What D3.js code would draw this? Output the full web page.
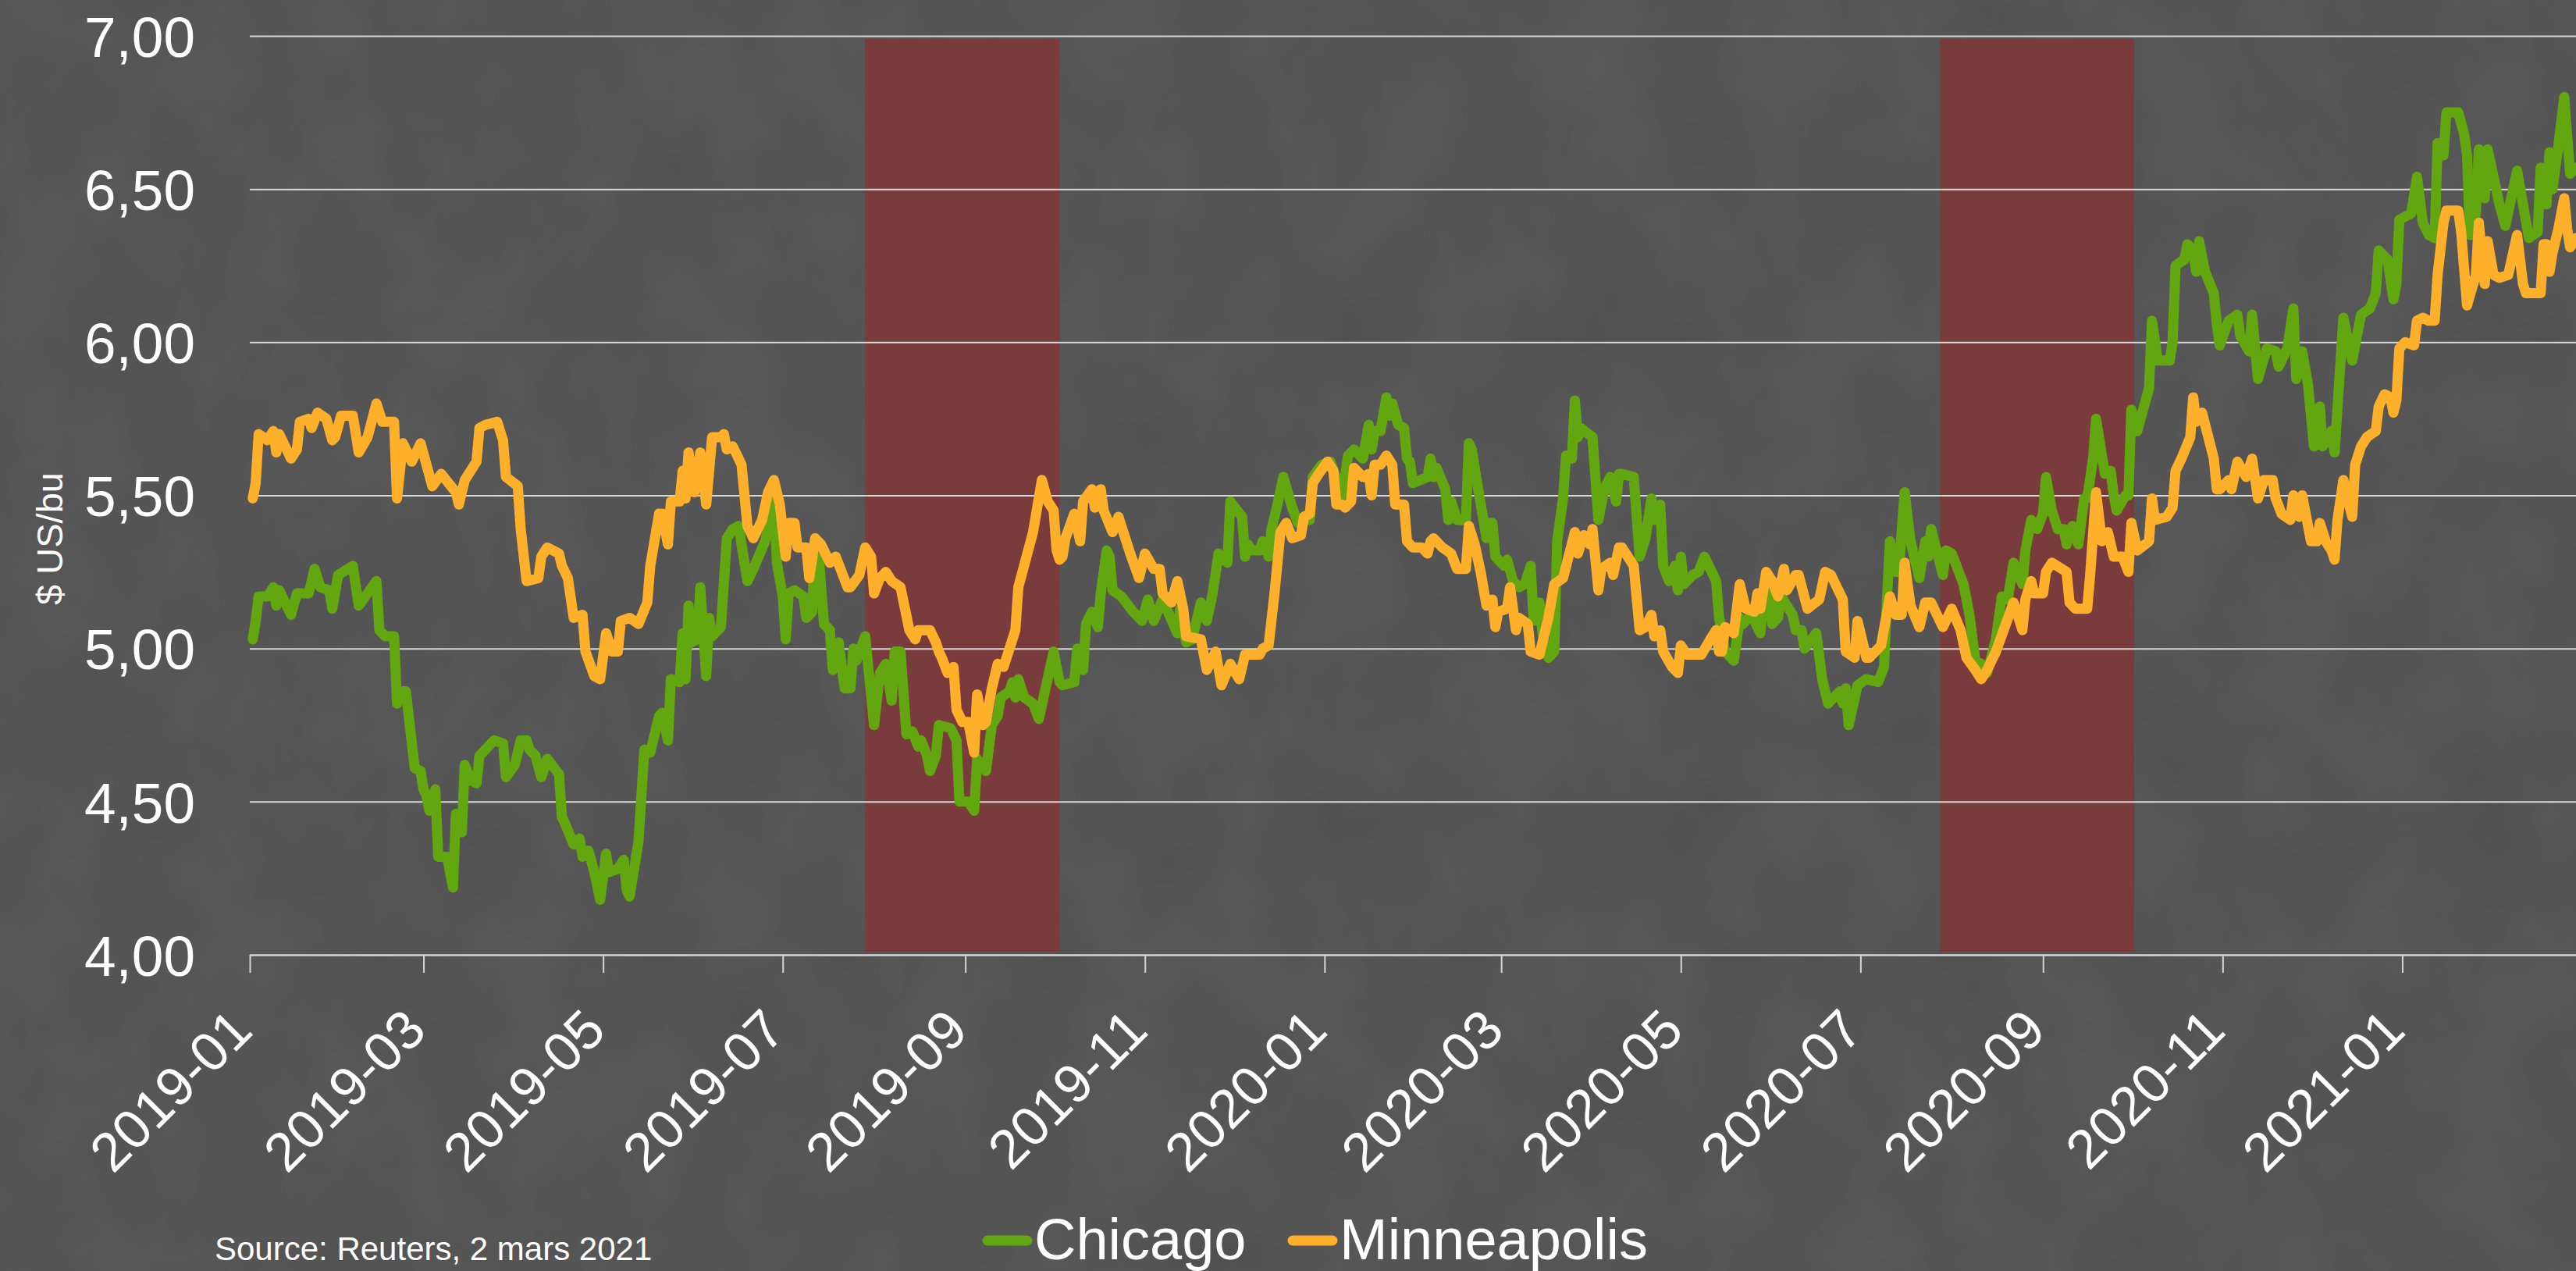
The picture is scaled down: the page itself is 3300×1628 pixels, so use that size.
<!DOCTYPE html>
<html>
<head>
<meta charset="utf-8">
<script src="https://cdn.jsdelivr.net/npm/d3@7"></script>
<style>
  html, body { margin: 0; padding: 0; background: #4f4f4f; }
  svg { display: block; }
  text { font-family: "Liberation Sans", Arial, Helvetica, sans-serif; fill: #ffffff; }
</style>
</head>
<body>
<div id="chart"></div>
<script>
// wheat prices, $ US per bushel
var chicago = [
  ["2019-01-02",5.03],["2019-01-03",5.09],["2019-01-04",5.17],["2019-01-07",5.17],["2019-01-09",5.20],
  ["2019-01-10",5.14],["2019-01-11",5.19],["2019-01-15",5.11],["2019-01-17",5.18],["2019-01-21",5.18],
  ["2019-01-23",5.26],["2019-01-25",5.20],["2019-01-28",5.19],["2019-01-29",5.13],["2019-01-31",5.24],
  ["2019-02-05",5.27],["2019-02-07",5.14],["2019-02-10",5.18],["2019-02-13",5.22],["2019-02-14",5.06],
  ["2019-02-16",5.04],["2019-02-19",5.04],["2019-02-20",4.82],["2019-02-21",4.86],["2019-02-23",4.86],
  ["2019-02-26",4.61],["2019-02-28",4.60],["2019-03-01",4.54],["2019-03-02",4.52],["2019-03-03",4.47],
  ["2019-03-05",4.54],["2019-03-06",4.32],["2019-03-09",4.32],["2019-03-11",4.22],["2019-03-12",4.46],
  ["2019-03-14",4.40],["2019-03-15",4.62],["2019-03-17",4.57],["2019-03-19",4.56],["2019-03-20",4.65],
  ["2019-03-22",4.67],["2019-03-25",4.70],["2019-03-28",4.69],["2019-03-29",4.58],["2019-04-01",4.62],
  ["2019-04-03",4.70],["2019-04-05",4.70],["2019-04-06",4.67],["2019-04-08",4.65],["2019-04-10",4.58],
  ["2019-04-12",4.64],["2019-04-16",4.59],["2019-04-17",4.45],["2019-04-18",4.43],["2019-04-21",4.36],
  ["2019-04-23",4.38],["2019-04-24",4.32],["2019-04-26",4.34],["2019-04-28",4.27],["2019-04-30",4.18],
  ["2019-05-02",4.33],["2019-05-03",4.27],["2019-05-06",4.28],["2019-05-08",4.31],["2019-05-09",4.21],
  ["2019-05-10",4.19],["2019-05-13",4.37],["2019-05-15",4.67],["2019-05-17",4.66],["2019-05-20",4.78],
  ["2019-05-21",4.79],["2019-05-23",4.70],["2019-05-24",4.90],["2019-05-27",4.89],["2019-05-28",5.05],
  ["2019-05-29",4.90],["2019-05-30",5.14],["2019-05-31",5.02],["2019-06-02",5.03],["2019-06-03",5.20],
  ["2019-06-05",4.91],["2019-06-06",5.10],["2019-06-07",5.04],["2019-06-10",5.07],["2019-06-12",5.36],
  ["2019-06-14",5.39],["2019-06-16",5.40],["2019-06-19",5.22],["2019-06-21",5.26],["2019-06-25",5.35],
  ["2019-06-28",5.48],["2019-06-29",5.28],["2019-07-01",5.17],["2019-07-02",5.03],["2019-07-03",5.18],
  ["2019-07-05",5.19],["2019-07-08",5.17],["2019-07-09",5.10],["2019-07-11",5.12],["2019-07-12",5.36],
  ["2019-07-13",5.33],["2019-07-15",5.08],["2019-07-17",5.06],["2019-07-18",4.93],["2019-07-20",5.02],
  ["2019-07-22",4.87],["2019-07-24",4.87],["2019-07-25",5.00],["2019-07-26",4.96],["2019-07-29",5.04],
  ["2019-08-01",4.75],["2019-08-03",4.92],["2019-08-05",4.95],["2019-08-07",4.83],["2019-08-08",4.99],
  ["2019-08-10",4.99],["2019-08-12",4.72],["2019-08-14",4.73],["2019-08-16",4.68],["2019-08-17",4.70],
  ["2019-08-19",4.65],["2019-08-20",4.60],["2019-08-22",4.65],["2019-08-23",4.75],["2019-08-27",4.74],
  ["2019-08-29",4.70],["2019-08-30",4.50],["2019-09-02",4.50],["2019-09-04",4.47],["2019-09-05",4.64],
  ["2019-09-08",4.60],["2019-09-10",4.75],["2019-09-12",4.78],["2019-09-13",4.84],["2019-09-16",4.86],
  ["2019-09-17",4.89],["2019-09-18",4.84],["2019-09-19",4.90],["2019-09-20",4.87],["2019-09-21",4.84],
  ["2019-09-24",4.82],["2019-09-26",4.77],["2019-09-28",4.86],["2019-10-01",4.99],["2019-10-03",4.89],
  ["2019-10-04",4.88],["2019-10-08",4.89],["2019-10-09",5.00],["2019-10-11",4.93],["2019-10-12",5.08],
  ["2019-10-14",5.12],["2019-10-16",5.07],["2019-10-17",5.18],["2019-10-19",5.32],["2019-10-20",5.30],
  ["2019-10-21",5.19],["2019-10-24",5.17],["2019-10-28",5.12],["2019-10-31",5.09],["2019-11-02",5.16],
  ["2019-11-04",5.09],["2019-11-07",5.16],["2019-11-12",5.05],["2019-11-13",5.13],["2019-11-15",5.02],
  ["2019-11-17",5.03],["2019-11-20",5.15],["2019-11-22",5.09],["2019-11-24",5.18],["2019-11-26",5.31],
  ["2019-11-29",5.28],["2019-11-30",5.48],["2019-12-04",5.43],["2019-12-05",5.30],["2019-12-06",5.34],
  ["2019-12-07",5.32],["2019-12-10",5.32],["2019-12-11",5.35],["2019-12-13",5.30],["2019-12-14",5.39],
  ["2019-12-16",5.47],["2019-12-18",5.56],["2019-12-21",5.46],["2019-12-23",5.41],["2019-12-25",5.43],
  ["2019-12-27",5.42],["2019-12-28",5.56],["2019-12-31",5.60],["2020-01-03",5.61],["2020-01-07",5.50],
  ["2020-01-09",5.63],["2020-01-11",5.65],["2020-01-14",5.62],["2020-01-16",5.73],["2020-01-17",5.65],
  ["2020-01-18",5.71],["2020-01-20",5.71],["2020-01-22",5.82],["2020-01-23",5.76],["2020-01-24",5.80],
  ["2020-01-26",5.73],["2020-01-28",5.72],["2020-01-29",5.62],["2020-01-30",5.61],["2020-01-31",5.54],
  ["2020-02-05",5.56],["2020-02-06",5.62],["2020-02-07",5.56],["2020-02-08",5.59],["2020-02-11",5.52],
  ["2020-02-12",5.42],["2020-02-13",5.48],["2020-02-15",5.42],["2020-02-18",5.42],["2020-02-19",5.67],
  ["2020-02-20",5.65],["2020-02-22",5.53],["2020-02-25",5.36],["2020-02-26",5.41],["2020-02-27",5.41],
  ["2020-02-28",5.30],["2020-03-02",5.27],["2020-03-03",5.29],["2020-03-05",5.22],["2020-03-07",5.20],
  ["2020-03-09",5.21],["2020-03-11",5.27],["2020-03-12",5.09],["2020-03-14",5.15],["2020-03-15",5.05],
  ["2020-03-17",4.97],["2020-03-19",4.99],["2020-03-20",5.35],["2020-03-22",5.49],["2020-03-23",5.63],
  ["2020-03-25",5.62],["2020-03-26",5.81],["2020-03-27",5.69],["2020-03-28",5.72],["2020-04-01",5.69],
  ["2020-04-03",5.42],["2020-04-05",5.52],["2020-04-07",5.56],["2020-04-09",5.48],["2020-04-10",5.57],
  ["2020-04-11",5.57],["2020-04-15",5.56],["2020-04-17",5.30],["2020-04-19",5.36],["2020-04-21",5.49],
  ["2020-04-22",5.42],["2020-04-24",5.47],["2020-04-25",5.27],["2020-04-27",5.22],["2020-04-29",5.27],
  ["2020-04-30",5.19],["2020-05-01",5.30],["2020-05-02",5.21],["2020-05-05",5.24],["2020-05-07",5.25],
  ["2020-05-09",5.30],["2020-05-11",5.26],["2020-05-13",5.22],["2020-05-14",5.10],["2020-05-16",4.99],
  ["2020-05-19",4.96],["2020-05-21",5.10],["2020-05-22",5.08],["2020-05-25",5.11],["2020-05-28",5.05],
  ["2020-05-29",5.15],["2020-05-31",5.20],["2020-06-01",5.08],["2020-06-03",5.10],["2020-06-04",5.17],
  ["2020-06-08",5.11],["2020-06-09",5.06],["2020-06-11",5.06],["2020-06-12",5.00],["2020-06-16",5.05],
  ["2020-06-18",4.90],["2020-06-20",4.82],["2020-06-24",4.86],["2020-06-25",4.82],["2020-06-26",4.87],
  ["2020-06-27",4.75],["2020-06-30",4.88],["2020-07-03",4.90],["2020-07-07",4.89],["2020-07-09",4.94],
  ["2020-07-10",5.16],["2020-07-11",5.35],["2020-07-13",5.25],["2020-07-14",5.25],["2020-07-16",5.51],
  ["2020-07-18",5.35],["2020-07-21",5.23],["2020-07-23",5.35],["2020-07-24",5.30],["2020-07-25",5.39],
  ["2020-07-29",5.24],["2020-07-30",5.32],["2020-08-01",5.31],["2020-08-05",5.21],["2020-08-07",5.11],
  ["2020-08-09",4.96],["2020-08-11",4.95],["2020-08-13",4.92],["2020-08-16",5.03],["2020-08-18",5.17],
  ["2020-08-20",5.16],["2020-08-22",5.28],["2020-08-25",5.21],["2020-08-26",5.32],["2020-08-28",5.42],
  ["2020-08-30",5.39],["2020-09-01",5.44],["2020-09-02",5.56],["2020-09-04",5.45],["2020-09-06",5.39],
  ["2020-09-08",5.39],["2020-09-09",5.34],["2020-09-11",5.40],["2020-09-13",5.34],["2020-09-15",5.49],
  ["2020-09-16",5.49],["2020-09-18",5.62],["2020-09-19",5.75],["2020-09-22",5.57],["2020-09-24",5.58],
  ["2020-09-25",5.50],["2020-09-26",5.45],["2020-09-29",5.50],["2020-09-30",5.50],["2020-10-01",5.78],
  ["2020-10-03",5.71],["2020-10-07",5.85],["2020-10-08",6.07],["2020-10-10",5.94],["2020-10-14",5.94],
  ["2020-10-15",6.00],["2020-10-16",6.25],["2020-10-19",6.27],["2020-10-20",6.32],["2020-10-22",6.30],
  ["2020-10-23",6.23],["2020-10-24",6.33],["2020-10-26",6.23],["2020-10-29",6.16],["2020-10-30",6.06],
  ["2020-10-31",5.99],["2020-11-03",6.07],["2020-11-06",6.09],["2020-11-07",6.02],["2020-11-10",5.97],
  ["2020-11-11",6.09],["2020-11-13",5.88],["2020-11-16",5.98],["2020-11-19",5.97],["2020-11-20",5.92],
  ["2020-11-23",5.98],["2020-11-25",6.11],["2020-11-26",5.88],["2020-11-28",5.97],["2020-11-30",5.86],
  ["2020-12-02",5.66],["2020-12-04",5.79],["2020-12-05",5.66],["2020-12-08",5.71],["2020-12-09",5.64],
  ["2020-12-12",6.08],["2020-12-15",5.94],["2020-12-18",6.09],["2020-12-21",6.11],["2020-12-23",6.16],
  ["2020-12-24",6.30],["2020-12-27",6.27],["2020-12-29",6.14],["2020-12-30",6.19],["2020-12-31",6.40],
  ["2021-01-04",6.42],["2021-01-06",6.54],["2021-01-08",6.39],["2021-01-10",6.35],["2021-01-12",6.34],
  ["2021-01-13",6.65],["2021-01-15",6.61],["2021-01-16",6.75],["2021-01-20",6.75],["2021-01-22",6.68],
  ["2021-01-23",6.61],["2021-01-24",6.35],["2021-01-26",6.42],["2021-01-27",6.63],["2021-01-29",6.47],
  ["2021-01-30",6.63],["2021-02-03",6.45],["2021-02-05",6.38],["2021-02-09",6.56],["2021-02-13",6.34],
  ["2021-02-16",6.36],["2021-02-17",6.57],["2021-02-19",6.45],["2021-02-20",6.62],["2021-02-21",6.50],
  ["2021-02-23",6.64],["2021-02-25",6.80],["2021-02-27",6.55],["2021-03-01",6.57]
];

var minneapolis = [
  ["2019-01-02",5.49],["2019-01-03",5.54],["2019-01-04",5.70],["2019-01-07",5.68],["2019-01-09",5.71],
  ["2019-01-10",5.64],["2019-01-11",5.70],["2019-01-15",5.62],["2019-01-17",5.65],["2019-01-18",5.74],
  ["2019-01-21",5.75],["2019-01-22",5.72],["2019-01-24",5.77],["2019-01-27",5.75],["2019-01-29",5.68],
  ["2019-01-30",5.69],["2019-02-01",5.76],["2019-02-05",5.76],["2019-02-07",5.64],["2019-02-10",5.69],
  ["2019-02-13",5.80],["2019-02-15",5.74],["2019-02-19",5.74],["2019-02-20",5.49],["2019-02-22",5.67],
  ["2019-02-25",5.61],["2019-02-28",5.67],["2019-03-04",5.53],["2019-03-07",5.57],["2019-03-12",5.51],
  ["2019-03-13",5.47],["2019-03-15",5.55],["2019-03-19",5.61],["2019-03-20",5.72],["2019-03-22",5.73],
  ["2019-03-26",5.74],["2019-03-28",5.68],["2019-03-29",5.56],["2019-04-02",5.53],["2019-04-03",5.39],
  ["2019-04-05",5.22],["2019-04-09",5.23],["2019-04-10",5.30],["2019-04-12",5.33],["2019-04-16",5.31],
  ["2019-04-17",5.27],["2019-04-19",5.23],["2019-04-21",5.10],["2019-04-24",5.11],["2019-04-25",4.99],
  ["2019-04-28",4.91],["2019-04-30",4.90],["2019-05-02",5.05],["2019-05-04",4.99],["2019-05-06",4.99],
  ["2019-05-07",5.09],["2019-05-10",5.10],["2019-05-13",5.08],["2019-05-16",5.15],["2019-05-17",5.27],
  ["2019-05-20",5.44],["2019-05-21",5.44],["2019-05-23",5.34],["2019-05-24",5.48],["2019-05-27",5.48],
  ["2019-05-28",5.58],["2019-05-29",5.49],["2019-05-30",5.64],["2019-06-01",5.51],["2019-06-03",5.64],
  ["2019-06-05",5.47],["2019-06-07",5.69],["2019-06-10",5.69],["2019-06-11",5.70],["2019-06-12",5.65],
  ["2019-06-14",5.66],["2019-06-16",5.62],["2019-06-17",5.60],["2019-06-19",5.40],["2019-06-21",5.36],
  ["2019-06-24",5.42],["2019-06-26",5.51],["2019-06-28",5.55],["2019-06-30",5.47],["2019-07-02",5.30],
  ["2019-07-03",5.41],["2019-07-05",5.41],["2019-07-06",5.33],["2019-07-09",5.33],["2019-07-10",5.23],
  ["2019-07-12",5.36],["2019-07-14",5.34],["2019-07-17",5.28],["2019-07-19",5.30],["2019-07-23",5.20],
  ["2019-07-24",5.20],["2019-07-27",5.24],["2019-07-29",5.33],["2019-07-31",5.30],["2019-08-01",5.18],
  ["2019-08-03",5.23],["2019-08-05",5.25],["2019-08-07",5.22],["2019-08-10",5.20],["2019-08-13",5.06],
  ["2019-08-15",5.03],["2019-08-16",5.06],["2019-08-20",5.06],["2019-08-22",5.02],["2019-08-23",4.99],
  ["2019-08-24",4.97],["2019-08-26",4.92],["2019-08-28",4.94],["2019-08-29",4.80],["2019-08-31",4.76],
  ["2019-09-02",4.76],["2019-09-04",4.66],["2019-09-05",4.85],["2019-09-07",4.75],["2019-09-08",4.76],
  ["2019-09-10",4.87],["2019-09-12",4.95],["2019-09-14",4.94],["2019-09-16",5.00],["2019-09-18",5.06],
  ["2019-09-19",5.20],["2019-09-24",5.38],["2019-09-27",5.55],["2019-09-29",5.48],["2019-10-01",5.45],
  ["2019-10-02",5.32],["2019-10-03",5.29],["2019-10-04",5.30],["2019-10-05",5.36],["2019-10-08",5.44],
  ["2019-10-10",5.35],["2019-10-11",5.48],["2019-10-14",5.52],["2019-10-15",5.46],["2019-10-17",5.52],
  ["2019-10-18",5.45],["2019-10-21",5.38],["2019-10-23",5.43],["2019-10-27",5.31],["2019-10-30",5.23],
  ["2019-11-01",5.31],["2019-11-04",5.26],["2019-11-06",5.26],["2019-11-07",5.18],["2019-11-10",5.15],
  ["2019-11-12",5.22],["2019-11-14",5.13],["2019-11-15",5.04],["2019-11-20",5.03],["2019-11-22",4.93],
  ["2019-11-25",4.99],["2019-11-27",4.88],["2019-11-30",4.95],["2019-12-03",4.90],["2019-12-05",4.98],
  ["2019-12-10",4.98],["2019-12-11",5.00],["2019-12-13",5.01],["2019-12-15",5.18],["2019-12-17",5.38],
  ["2019-12-19",5.41],["2019-12-21",5.36],["2019-12-24",5.37],["2019-12-25",5.43],["2019-12-27",5.44],
  ["2019-12-28",5.54],["2019-12-30",5.57],["2020-01-02",5.61],["2020-01-04",5.58],["2020-01-05",5.47],
  ["2020-01-07",5.47],["2020-01-08",5.46],["2020-01-10",5.48],["2020-01-11",5.59],["2020-01-14",5.56],
  ["2020-01-16",5.57],["2020-01-17",5.50],["2020-01-18",5.60],["2020-01-20",5.60],["2020-01-22",5.63],
  ["2020-01-24",5.60],["2020-01-25",5.47],["2020-01-28",5.47],["2020-01-29",5.35],["2020-01-31",5.33],
  ["2020-02-03",5.33],["2020-02-05",5.31],["2020-02-06",5.35],["2020-02-07",5.36],["2020-02-10",5.33],
  ["2020-02-13",5.31],["2020-02-15",5.26],["2020-02-18",5.26],["2020-02-19",5.40],["2020-02-21",5.34],
  ["2020-02-23",5.25],["2020-02-25",5.14],["2020-02-27",5.16],["2020-02-28",5.07],["2020-02-29",5.12],
  ["2020-03-03",5.13],["2020-03-04",5.20],["2020-03-06",5.06],["2020-03-07",5.10],["2020-03-10",5.08],
  ["2020-03-11",4.99],["2020-03-14",4.98],["2020-03-17",5.10],["2020-03-19",5.21],["2020-03-22",5.23],
  ["2020-03-26",5.38],["2020-03-27",5.31],["2020-03-29",5.37],["2020-03-31",5.34],["2020-04-01",5.39],
  ["2020-04-03",5.19],["2020-04-04",5.26],["2020-04-07",5.28],["2020-04-08",5.24],["2020-04-10",5.33],
  ["2020-04-11",5.33],["2020-04-15",5.27],["2020-04-17",5.06],["2020-04-19",5.07],["2020-04-21",5.11],
  ["2020-04-22",5.04],["2020-04-24",5.06],["2020-04-25",4.99],["2020-04-28",4.94],["2020-04-30",4.92],
  ["2020-05-01",5.01],["2020-05-03",4.98],["2020-05-08",4.98],["2020-05-11",5.03],["2020-05-13",5.06],
  ["2020-05-14",4.99],["2020-05-15",4.99],["2020-05-16",5.07],["2020-05-19",5.05],["2020-05-21",5.21],
  ["2020-05-23",5.13],["2020-05-26",5.12],["2020-05-27",5.18],["2020-05-28",5.13],["2020-05-30",5.25],
  ["2020-06-01",5.22],["2020-06-03",5.17],["2020-06-05",5.26],["2020-06-06",5.19],["2020-06-09",5.24],
  ["2020-06-10",5.24],["2020-06-13",5.13],["2020-06-17",5.16],["2020-06-19",5.25],["2020-06-21",5.24],
  ["2020-06-24",5.18],["2020-06-25",5.16],["2020-06-26",4.99],["2020-06-29",4.97],["2020-06-30",5.09],
  ["2020-07-03",4.97],["2020-07-04",4.97],["2020-07-08",5.01],["2020-07-11",5.17],["2020-07-13",5.11],
  ["2020-07-15",5.11],["2020-07-16",5.28],["2020-07-18",5.14],["2020-07-21",5.07],["2020-07-23",5.15],
  ["2020-07-25",5.15],["2020-07-29",5.07],["2020-08-01",5.13],["2020-08-04",5.06],["2020-08-06",4.97],
  ["2020-08-09",4.93],["2020-08-11",4.90],["2020-08-13",4.93],["2020-08-16",4.99],["2020-08-19",5.07],
  ["2020-08-22",5.15],["2020-08-25",5.06],["2020-08-26",5.16],["2020-08-28",5.22],["2020-08-29",5.18],
  ["2020-09-01",5.18],["2020-09-02",5.25],["2020-09-04",5.28],["2020-09-09",5.25],["2020-09-10",5.15],
  ["2020-09-12",5.13],["2020-09-16",5.13],["2020-09-17",5.24],["2020-09-19",5.51],["2020-09-21",5.35],
  ["2020-09-23",5.38],["2020-09-25",5.30],["2020-09-28",5.30],["2020-09-30",5.25],["2020-10-01",5.41],
  ["2020-10-03",5.32],["2020-10-07",5.35],["2020-10-08",5.49],["2020-10-09",5.42],["2020-10-13",5.43],
  ["2020-10-15",5.46],["2020-10-16",5.58],["2020-10-18",5.62],["2020-10-21",5.69],["2020-10-22",5.82],
  ["2020-10-23",5.74],["2020-10-25",5.77],["2020-10-29",5.62],["2020-10-30",5.52],["2020-10-31",5.52],
  ["2020-11-03",5.55],["2020-11-04",5.52],["2020-11-06",5.61],["2020-11-09",5.56],["2020-11-11",5.62],
  ["2020-11-13",5.49],["2020-11-15",5.55],["2020-11-18",5.55],["2020-11-19",5.49],["2020-11-21",5.44],
  ["2020-11-24",5.42],["2020-11-25",5.50],["2020-11-27",5.43],["2020-11-28",5.50],["2020-12-01",5.35],
  ["2020-12-03",5.35],["2020-12-04",5.41],["2020-12-06",5.35],["2020-12-08",5.32],["2020-12-09",5.29],
  ["2020-12-10",5.42],["2020-12-12",5.55],["2020-12-15",5.43],["2020-12-16",5.60],["2020-12-18",5.66],
  ["2020-12-20",5.69],["2020-12-23",5.71],["2020-12-24",5.79],["2020-12-26",5.83],["2020-12-28",5.82],
  ["2020-12-29",5.77],["2020-12-30",5.81],["2020-12-31",5.98],["2021-01-02",6.00],["2021-01-05",5.99],
  ["2021-01-06",6.07],["2021-01-08",6.08],["2021-01-10",6.07],["2021-01-12",6.07],["2021-01-13",6.22],
  ["2021-01-15",6.39],["2021-01-16",6.43],["2021-01-20",6.43],["2021-01-21",6.36],["2021-01-23",6.12],
  ["2021-01-26",6.22],["2021-01-27",6.39],["2021-01-29",6.19],["2021-01-30",6.33],["2021-02-01",6.22],
  ["2021-02-03",6.21],["2021-02-06",6.22],["2021-02-09",6.35],["2021-02-11",6.19],["2021-02-12",6.16],
  ["2021-02-17",6.16],["2021-02-18",6.32],["2021-02-19",6.32],["2021-02-20",6.23],["2021-02-21",6.29],
  ["2021-02-23",6.37],["2021-02-25",6.47],["2021-02-26",6.37],["2021-02-27",6.31],["2021-03-01",6.34]
];

// shaded periods
var periods = [["2019-07-29", "2019-10-03"], ["2020-07-28", "2020-10-02"]];

var yTicks = [4, 4.5, 5, 5.5, 6, 6.5, 7];
var xTickLabels = ["2019-01","2019-03","2019-05","2019-07","2019-09","2019-11",
                   "2020-01","2020-03","2020-05","2020-07","2020-09","2020-11","2021-01"];

var seriesNames = ["Chicago", "Minneapolis"];
var seriesColors = ["#62a70f", "#ffb02a"];

var W = 3300, H = 1628;
var margin = {top: 46, right: 0, bottom: 405, left: 320};
var width = W - margin.left - margin.right,
    height = H - margin.top - margin.bottom;

var parse = d3.utcParse("%Y-%m-%d");
var parseMonth = d3.utcParse("%Y-%m");
var frFormat = d3.formatLocale({decimal: ",", thousands: " ", grouping: [3], currency: ["", " $"]}).format(".2f");

var x = d3.scaleUtc()
    .domain([parse("2019-01-01"), parse("2021-03-01")])
    .range([0, width]);

var y = d3.scaleLinear()
    .domain([4, 7])
    .range([height, 0]);

var svg = d3.select("#chart").append("svg")
    .attr("width", W)
    .attr("height", H);

// concrete-like backdrop
var defs = svg.append("defs");
var grain = defs.append("filter").attr("id", "grain")
    .attr("x", 0).attr("y", 0).attr("width", 1).attr("height", 1);
grain.append("feTurbulence")
    .attr("type", "fractalNoise")
    .attr("baseFrequency", "0.008 0.006")
    .attr("numOctaves", 4)
    .attr("seed", 7);
grain.append("feColorMatrix")
    .attr("type", "matrix")
    .attr("values", "1 0 0 0 0  1 0 0 0 0  1 0 0 0 0  0 0 0 0 0.06");

svg.append("rect")
    .attr("width", W).attr("height", H)
    .attr("fill", "#4f4f4f");
svg.append("rect")
    .attr("width", W).attr("height", H)
    .attr("filter", "url(#grain)");

var g = svg.append("g")
    .attr("transform", "translate(" + margin.left + "," + margin.top + ")");

// red bands
g.selectAll(".band")
    .data(periods)
  .enter().append("rect")
    .attr("class", "band")
    .attr("x", function(d) { return x(parse(d[0])); })
    .attr("width", function(d) { return x(parse(d[1])) - x(parse(d[0])); })
    .attr("y", y(6.99))
    .attr("height", y(4.01) - y(6.99))
    .attr("fill", "#7a3b3c");

// y grid + labels
var yAxis = d3.axisLeft(y)
    .tickValues(yTicks)
    .tickSize(-width)
    .tickPadding(70)
    .tickFormat(frFormat);

var gy = g.append("g")
    .attr("class", "y axis")
    .call(yAxis);
gy.select(".domain").remove();
gy.selectAll(".tick line")
    .attr("stroke", "#d6d6d6")
    .attr("stroke-width", 2);
gy.selectAll(".tick text")
    .attr("fill", "#ffffff")
    .style("font-size", "73px")
    .attr("dy", "0.36em");

// x axis
var xAxis = d3.axisBottom(x)
    .tickValues(xTickLabels.map(function(s) { return parseMonth(s); }))
    .tickFormat(d3.utcFormat("%Y-%m"))
    .tickSize(23)
    .tickSizeOuter(0);

var gx = g.append("g")
    .attr("class", "x axis")
    .attr("transform", "translate(0," + height + ")")
    .call(xAxis);
gx.select(".domain")
    .attr("stroke", "#d6d6d6")
    .attr("stroke-width", 2);
gx.selectAll(".tick line")
    .attr("stroke", "#d6d6d6")
    .attr("stroke-width", 2);
gx.selectAll(".tick text")
    .attr("fill", "#ffffff")
    .attr("x", 0).attr("y", 0).attr("dy", 0)
    .attr("text-anchor", "end")
    .attr("transform", "translate(6,100) rotate(-45)")
    .style("font-size", "70px");

// lines
var line = d3.line()
    .x(function(d) { return x(parse(d[0])); })
    .y(function(d) { return y(d[1]); });

[chicago, minneapolis].forEach(function(series, i) {
  g.append("path")
      .datum(series)
      .attr("fill", "none")
      .attr("stroke", seriesColors[i])
      .attr("stroke-width", 13)
      .attr("stroke-linejoin", "round")
      .attr("stroke-linecap", "round")
      .attr("d", line);
});

// y axis title
svg.append("text")
    .attr("transform", "translate(80,690) rotate(-90)")
    .attr("text-anchor", "middle")
    .style("font-size", "47px")
    .text("$ US/bu");

// legend
var legendX = [1265, 1656];
var legend = svg.selectAll(".legend")
    .data(seriesNames)
  .enter().append("g")
    .attr("class", "legend")
    .attr("transform", function(d, i) { return "translate(" + legendX[i] + ",1589)"; });
legend.append("line")
    .attr("x1", 0).attr("x2", 51)
    .attr("stroke", function(d, i) { return seriesColors[i]; })
    .attr("stroke-width", 13)
    .attr("stroke-linecap", "round");
legend.append("text")
    .attr("x", 60)
    .attr("y", 24)
    .style("font-size", "74px")
    .text(function(d) { return d; });

// source
svg.append("text")
    .attr("x", 275)
    .attr("y", 1614)
    .style("font-size", "42px")
    .text("Source: Reuters, 2 mars 2021");
</script>
</body>
</html>
